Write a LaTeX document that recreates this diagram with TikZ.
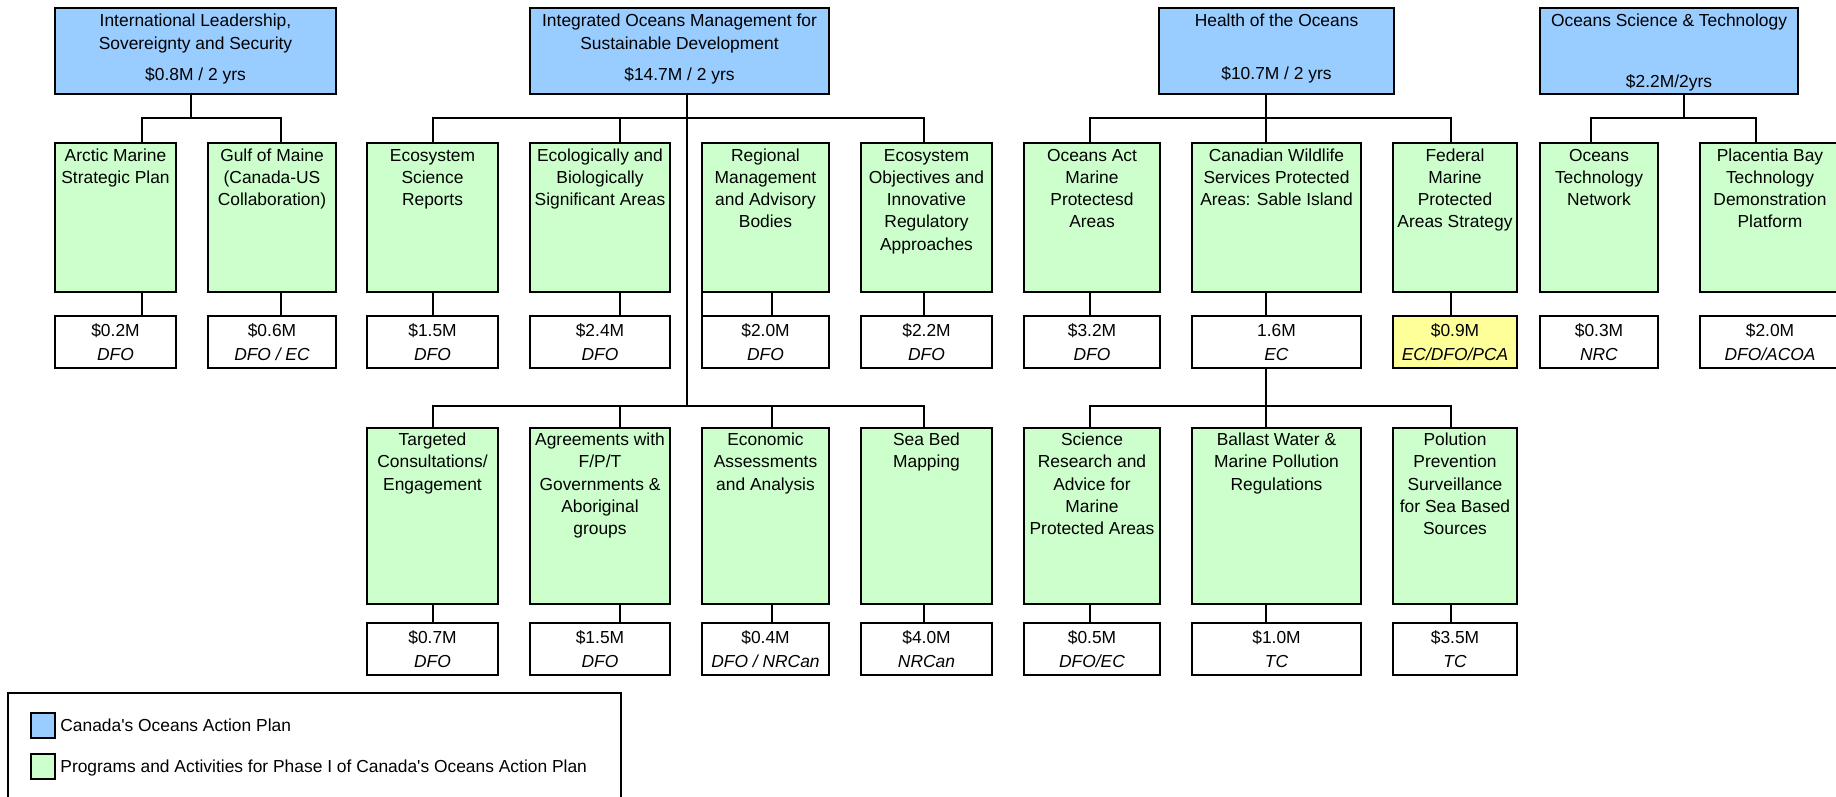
\documentclass[tikz,border=0pt]{standalone}
\usepackage{fontspec}
\setmainfont{Liberation Sans}
\definecolor{oapblue}{HTML}{99CCFF}
\definecolor{oapgreen}{HTML}{CCFFCC}
\definecolor{oapyellow}{HTML}{FFFF99}
\tikzset{
  box/.style={draw, line width=1.35pt, inner sep=0pt, outer sep=0pt, font={\fontsize{8.7pt}{11.15pt}\selectfont}},
  topbox/.style={box, fill=oapblue},
  progbox/.style={box, fill=oapgreen},
  amtbox/.style={box, fill=white},
  amtyellow/.style={box, fill=oapyellow},
  legframe/.style={box, fill=white},
  legtext/.style={anchor=base west, inner sep=0pt, font={\fontsize{8.7pt}{11.15pt}\selectfont}},
  conn/.style={line width=1.2pt},
}
% style, name, x1, y1, x2, y2, first-baseline offset (pt), text
\newcommand\bx[8]{%
  \node[#1, minimum width={(#5-#3)*0.5pt}, minimum height={(#6-#4)*0.5pt}] (#2) at ({(#3+#5)/2},{(#4+#6)/2})
  {\parbox[c][\dimexpr0.5pt*\numexpr#6-#4\relax\relax][t]{\dimexpr0.5pt*\numexpr#5-#3\relax\relax}{\centering\rule{0pt}{#7pt}#8}};}
\newcommand\amt[2]{#1\\[1.25pt]\textit{#2}}
\begin{document}
\begin{tikzpicture}[x=0.5pt, y=-0.5pt]
\useasboundingbox (0,0) rectangle (1836,797);
\clip (0,0) rectangle (1836,797);
% ---------- top level ----------
\bx{topbox}{t1}{55}{8}{336}{94}{9.5}{International Leadership,\\Sovereignty and Security\\[4.35pt]\$0.8M / 2 yrs}
\bx{topbox}{t2}{530}{8}{829}{94}{9.5}{Integrated Oceans Management for\\Sustainable Development\\[4.35pt]\$14.7M / 2 yrs}
\bx{topbox}{t3}{1159}{8}{1394}{94}{9.5}{Health of the Oceans\\[15.35pt]\$10.7M / 2 yrs}
\bx{topbox}{t4}{1540}{8}{1798}{94}{9.5}{Oceans Science \& Technology\\[19.35pt]\$2.2M/2yrs}
% ---------- row 1 programs ----------
\bx{progbox}{arctic}{55}{143}{176}{292}{9}{Arctic Marine\\Strategic Plan}
\bx{progbox}{gulf}{208}{143}{336}{292}{9}{Gulf of Maine\\(Canada-US\\Collaboration)}
\bx{progbox}{ecosci}{367}{143}{498}{292}{9}{Ecosystem\\Science\\Reports}
\bx{progbox}{ecobio}{530}{143}{670}{292}{9}{Ecologically and\\Biologically\\Significant Areas}
\bx{progbox}{regional}{702}{143}{829}{292}{9}{Regional\\Management\\and Advisory\\Bodies}
\bx{progbox}{ecoobj}{861}{143}{992}{292}{9}{Ecosystem\\Objectives and\\Innovative\\Regulatory\\Approaches}
\bx{progbox}{oact}{1024}{143}{1160}{292}{9}{Oceans Act\\Marine\\Protectesd\\Areas}
\bx{progbox}{cws}{1192}{143}{1361}{292}{9}{Canadian Wildlife\\Services Protected\\Areas: Sable Island}
\bx{progbox}{fmpa}{1393}{143}{1517}{292}{9}{Federal\\Marine\\Protected\\Areas Strategy}
\bx{progbox}{otn}{1540}{143}{1658}{292}{9}{Oceans\\Technology\\Network}
\bx{progbox}{pbay}{1700}{143}{1840}{292}{9}{Placentia Bay\\Technology\\Demonstration\\Platform}
% ---------- row 1 amounts ----------
\bx{amtbox}{arcamt}{55}{316}{176}{368}{10}{\amt{\$0.2M}{DFO}}
\bx{amtbox}{gulfamt}{208}{316}{336}{368}{10}{\amt{\$0.6M}{DFO / EC}}
\bx{amtbox}{ecosciamt}{367}{316}{498}{368}{10}{\amt{\$1.5M}{DFO}}
\bx{amtbox}{ecobioamt}{530}{316}{670}{368}{10}{\amt{\$2.4M}{DFO}}
\bx{amtbox}{regamt}{702}{316}{829}{368}{10}{\amt{\$2.0M}{DFO}}
\bx{amtbox}{ecoobjamt}{861}{316}{992}{368}{10}{\amt{\$2.2M}{DFO}}
\bx{amtbox}{oactamt}{1024}{316}{1160}{368}{10}{\amt{\$3.2M}{DFO}}
\bx{amtbox}{cwsamt}{1192}{316}{1361}{368}{10}{\amt{1.6M}{EC}}
\bx{amtyellow}{fmpaamt}{1393}{316}{1517}{368}{10}{\amt{\$0.9M}{EC/DFO/PCA}}
\bx{amtbox}{otnamt}{1540}{316}{1658}{368}{10}{\amt{\$0.3M}{NRC}}
\bx{amtbox}{pbayamt}{1700}{316}{1840}{368}{10}{\amt{\$2.0M}{DFO/ACOA}}
% ---------- row 2 programs ----------
\bx{progbox}{target}{367}{428}{498}{604}{8.75}{Targeted\\Consultations/\\Engagement}
\bx{progbox}{agree}{530}{428}{670}{604}{8.75}{Agreements with\\F/P/T\\Governments \&\\Aboriginal\\groups}
\bx{progbox}{econ}{702}{428}{829}{604}{8.75}{Economic\\Assessments\\and Analysis}
\bx{progbox}{seabed}{861}{428}{992}{604}{8.75}{Sea Bed\\Mapping}
\bx{progbox}{scires}{1024}{428}{1160}{604}{8.75}{Science\\Research and\\Advice for\\Marine\\Protected Areas}
\bx{progbox}{ballast}{1192}{428}{1361}{604}{8.75}{Ballast Water \&\\Marine Pollution\\Regulations}
\bx{progbox}{polut}{1393}{428}{1517}{604}{8.75}{Polution\\Prevention\\Surveillance\\for Sea Based\\Sources}
% ---------- row 2 amounts ----------
\bx{amtbox}{targetamt}{367}{623}{498}{675}{10}{\amt{\$0.7M}{DFO}}
\bx{amtbox}{agreeamt}{530}{623}{670}{675}{10}{\amt{\$1.5M}{DFO}}
\bx{amtbox}{econamt}{702}{623}{829}{675}{10}{\amt{\$0.4M}{DFO / NRCan}}
\bx{amtbox}{seabedamt}{861}{623}{992}{675}{10}{\amt{\$4.0M}{NRCan}}
\bx{amtbox}{sciresamt}{1024}{623}{1160}{675}{10}{\amt{\$0.5M}{DFO/EC}}
\bx{amtbox}{ballastamt}{1192}{623}{1361}{675}{10}{\amt{\$1.0M}{TC}}
\bx{amtbox}{polutamt}{1393}{623}{1517}{675}{10}{\amt{\$3.5M}{TC}}
% ---------- legend ----------
\bx{legframe}{legend}{8}{693}{621}{810}{0}{}
\node[topbox, minimum width=12pt, minimum height=12.5pt] (legblue) at (43,725.5) {};
\node[progbox, minimum width=12pt, minimum height=12.5pt] (leggreen) at (43,766.5) {};
\node[legtext] (legbluetxt) at (60,731) {Canada\textquotesingle s Oceans Action Plan};
\node[legtext] (leggreentxt) at (60,772) {Programs and Activities for Phase I of Canada\textquotesingle s Oceans Action Plan};
% ---------- junction coordinates ----------
\coordinate (yb1) at (0,118);
\coordinate (yb2) at (0,406);
\foreach \xx in {142,191,281,433,620,687,772,924,1090,1266,1451,1591,1684,1756}
  {\coordinate (x\xx) at (\xx,0);}
% ---------- connectors: International Leadership ----------
\draw[conn] (t1.south -| x191) -- (x191 |- yb1);
\draw[conn] (arctic.north -| x142) -- (x142 |- yb1) -- (x281 |- yb1) -- (gulf.north -| x281);
\draw[conn] (arctic.south -| x142) -- (arcamt.north -| x142);
\draw[conn] (gulf.south -| x281) -- (gulfamt.north -| x281);
% ---------- connectors: Integrated Oceans Management ----------
\draw[conn] (t2.south -| x687) -- (x687 |- yb2);
\draw[conn] (ecosci.north -| x433) -- (x433 |- yb1) -- (x924 |- yb1) -- (ecoobj.north -| x924);
\draw[conn] (x620 |- yb1) -- (ecobio.north -| x620);
\draw[conn] (ecosci.south -| x433) -- (ecosciamt.north -| x433);
\draw[conn] (ecobio.south -| x620) -- (ecobioamt.north -| x620);
\draw[conn] (regional.south -| x772) -- (regamt.north -| x772);
\draw[conn] (regional.south west) -- (regamt.north west);
\draw[conn] (ecoobj.south -| x924) -- (ecoobjamt.north -| x924);
\draw[conn] (target.north -| x433) -- (x433 |- yb2) -- (x924 |- yb2) -- (seabed.north -| x924);
\draw[conn] (x620 |- yb2) -- (agree.north -| x620);
\draw[conn] (x772 |- yb2) -- (econ.north -| x772);
\draw[conn] (target.south -| x433) -- (targetamt.north -| x433);
\draw[conn] (agree.south -| x620) -- (agreeamt.north -| x620);
\draw[conn] (econ.south -| x772) -- (econamt.north -| x772);
\draw[conn] (seabed.south -| x924) -- (seabedamt.north -| x924);
% ---------- connectors: Health of the Oceans ----------
\draw[conn] (t3.south -| x1266) -- (cws.north -| x1266);
\draw[conn] (oact.north -| x1090) -- (x1090 |- yb1) -- (x1451 |- yb1) -- (fmpa.north -| x1451);
\draw[conn] (oact.south -| x1090) -- (oactamt.north -| x1090);
\draw[conn] (cws.south -| x1266) -- (cwsamt.north -| x1266);
\draw[conn] (fmpa.south -| x1451) -- (fmpaamt.north -| x1451);
\draw[conn] (cwsamt.south -| x1266) -- (ballast.north -| x1266);
\draw[conn] (scires.north -| x1090) -- (x1090 |- yb2) -- (x1451 |- yb2) -- (polut.north -| x1451);
\draw[conn] (scires.south -| x1090) -- (sciresamt.north -| x1090);
\draw[conn] (ballast.south -| x1266) -- (ballastamt.north -| x1266);
\draw[conn] (polut.south -| x1451) -- (polutamt.north -| x1451);
% ---------- connectors: Oceans Science & Technology ----------
\draw[conn] (t4.south -| x1684) -- (x1684 |- yb1);
\draw[conn] (otn.north -| x1591) -- (x1591 |- yb1) -- (x1756 |- yb1) -- (pbay.north -| x1756);
\end{tikzpicture}
\end{document}
